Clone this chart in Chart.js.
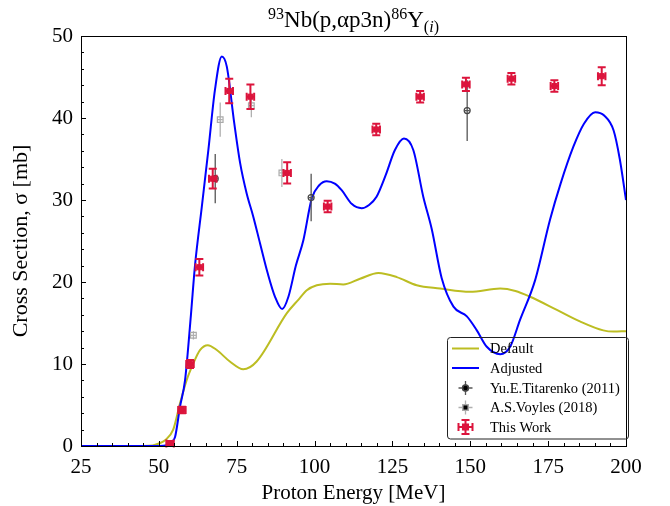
<!DOCTYPE html>
<html>
<head>
<meta charset="utf-8">
<script src="https://cdn.jsdelivr.net/npm/chart.js@4.4.1/dist/chart.umd.min.js"></script>
<style>
  html, body { margin: 0; padding: 0; background: #fff; }
</style>
</head>
<body>
<canvas id="xsChart" width="670" height="506"></canvas>
<script>
// model curves (energy in MeV, cross section in mb)
const defaultE  = [25, 45, 48, 50, 52, 54.6, 56.8, 58.9, 61.1, 63.2, 65.7, 68.6, 72.8, 77.1, 81.4, 91.1, 94.7, 97.5, 100.7, 105, 109.2, 114.6, 120.5, 126.4, 132.8, 140.3, 149.9, 159.6, 164.5, 169.2, 177.8, 185.2, 192.7, 196, 200];
const defaultXS = [0, 0, 0.05, 0.3, 0.7, 2.0, 5.2, 8.0, 10.1, 11.7, 12.3, 11.7, 10.3, 9.35, 10.3, 16.2, 17.8, 19.0, 19.6, 19.8, 19.7, 20.4, 21.1, 20.6, 19.6, 19.2, 18.8, 19.2, 18.9, 18.2, 16.6, 15.2, 14.1, 13.95, 14.0];

const adjustedE  = [25, 50, 52.6, 54, 55.2, 56.8, 58.4, 60.3, 61.6, 63.8, 65.9, 68.0, 70.2, 71.8, 74.2, 76.1, 78.2, 80.3, 82.5, 85, 87.3, 89.6, 91.6, 94, 96.4, 99.1, 101.5, 103.9, 106.5, 108.7, 112, 115.1, 117.5, 119.9, 122.8, 125.8, 128.7, 131.7, 134.9, 137.6, 140.8, 144.6, 148.9, 152.1, 155.3, 159.6, 162.8, 166.0, 170.8, 175.6, 179, 183.1, 186.5, 190.1, 193, 196, 198, 200];
const adjustedXS = [0, 0, 0.1, 0.5, 1.1, 4.8, 8.0, 16.0, 22.0, 29.2, 36.1, 43.4, 47.5, 46.3, 39.4, 34.5, 30.8, 28.0, 24.7, 21.0, 18.2, 16.7, 18.2, 22.0, 25.1, 30.2, 31.8, 32.3, 32.0, 31.2, 29.5, 29.0, 29.4, 30.4, 33.0, 36.1, 37.5, 36.1, 30.4, 26.5, 20.5, 17.0, 15.8, 14.1, 12.1, 11.2, 12.1, 15.4, 20.2, 27.6, 32.0, 36.5, 39.3, 40.7, 40.3, 38.5, 35.0, 30.0];

// measurements
const titarenkoE   = [68.1, 98.9, 149.0];
const titarenkoXS  = [32.6, 30.3, 40.9];
const titarenkoErr = [3.0, 2.9, 3.7];

const voylesE   = [61.1, 69.7, 79.7, 89.5];
const voylesXS  = [13.5, 39.8, 41.5, 33.3];
const voylesErr = [0.5, 2.1, 1.4, 1.7];

const workE    = [53.6, 57.4, 60.0, 63.0, 67.3, 72.6, 79.4, 91.2, 104.2, 119.8, 133.9, 148.6, 163.2, 177.0, 192.2];
const workXS   = [0.3, 4.4, 10.0, 21.8, 32.6, 43.3, 42.6, 33.3, 29.2, 38.6, 42.6, 44.1, 44.8, 43.9, 45.1];
const workErr  = [0.3, 0.4, 0.5, 1.0, 1.2, 1.5, 1.5, 1.3, 0.7, 0.7, 0.7, 0.8, 0.7, 0.7, 1.1];
const workEErr = [1.2, 1.2, 1.2, 1.2, 1.2, 1.2, 1.2, 1.2, 1.2, 1.2, 1.2, 1.2, 1.2, 1.2, 1.2];

const xTicks = [25, 50, 75, 100, 125, 150, 175, 200];
const yTicks = [0, 10, 20, 30, 40, 50];

const SERIF = '"Liberation Serif", "Times New Roman", serif';
const CRIMSON = '#dc143c';

function toXY(xs, ys) {
  return xs.map((x, i) => ({ x: x, y: ys[i] }));
}

// error bars drawn under each dataset's markers
const errorBars = {
  id: 'errorBars',
  beforeDatasetDraw(chart, args) {
    const ds = chart.data.datasets[args.index];
    if (!ds.errY) return;
    const { ctx, scales: { x, y } } = chart;
    ctx.save();
    ctx.strokeStyle = ds.errColor;
    ctx.lineWidth = ds.errWidth;
    ds.data.forEach((p, i) => {
      const px = x.getPixelForValue(p.x);
      const y0 = y.getPixelForValue(p.y - ds.errY[i]);
      const y1 = y.getPixelForValue(p.y + ds.errY[i]);
      const ex = ds.errX ? ds.errX[i] : 0;
      const x0 = x.getPixelForValue(p.x - ex);
      const x1 = x.getPixelForValue(p.x + ex);
      const py = y.getPixelForValue(p.y);
      ctx.beginPath();
      ctx.moveTo(px, y0); ctx.lineTo(px, y1);
      if (ex) { ctx.moveTo(x0, py); ctx.lineTo(x1, py); }
      if (ds.cap) {
        ctx.moveTo(px - ds.cap, y0); ctx.lineTo(px + ds.cap, y0);
        ctx.moveTo(px - ds.cap, y1); ctx.lineTo(px + ds.cap, y1);
        if (ex) {
          ctx.moveTo(x0, py - ds.cap); ctx.lineTo(x0, py + ds.cap);
          ctx.moveTo(x1, py - ds.cap); ctx.lineTo(x1, py + ds.cap);
        }
      }
      ctx.stroke();
    });
    ctx.restore();
  }
};

// frame, inward ticks, title and legend
const decorations = {
  id: 'decorations',
  afterDraw(chart) {
    const { ctx, chartArea: a, scales: { x, y } } = chart;
    ctx.save();
    ctx.strokeStyle = '#000';
    ctx.lineWidth = 1;
    ctx.strokeRect(Math.round(a.left) + 0.5, Math.round(a.top) + 0.5, Math.round(a.right - a.left), Math.round(a.bottom - a.top));

    ctx.beginPath();
    for (let v = 25; v <= 200; v += 5) {
      const px = Math.round(x.getPixelForValue(v)) + 0.5;
      const len = v % 25 === 0 ? 5 : 3;
      ctx.moveTo(px, a.bottom); ctx.lineTo(px, a.bottom - len);
    }
    for (let v = 0; v <= 50; v += 2) {
      const py = Math.round(y.getPixelForValue(v)) + 0.5;
      const len = v % 10 === 0 ? 5 : 3;
      ctx.moveTo(a.left, py); ctx.lineTo(a.left + len, py);
    }
    ctx.stroke();

    // title with super/subscripts
    const parts = [
      { t: '93', size: 16, dy: -8 },
      { t: 'Nb(p,\u03b1p3n)', size: 23, dy: 0 },
      { t: '86', size: 16, dy: -8 },
      { t: 'Y', size: 23, dy: 0 },
      { t: '(', size: 16, dy: 5 },
      { t: 'i', size: 16, dy: 5, italic: true },
      { t: ')', size: 16, dy: 5 }
    ];
    let total = 0;
    parts.forEach(p => {
      ctx.font = (p.italic ? 'italic ' : '') + p.size + 'px ' + SERIF;
      p.w = ctx.measureText(p.t).width;
      total += p.w;
    });
    let tx = (a.left + a.right) / 2 - total / 2;
    ctx.fillStyle = '#000';
    ctx.textBaseline = 'alphabetic';
    ctx.textAlign = 'left';
    parts.forEach(p => {
      ctx.font = (p.italic ? 'italic ' : '') + p.size + 'px ' + SERIF;
      ctx.fillText(p.t, tx, 27 + p.dy);
      tx += p.w;
    });

    // legend
    const lx = 447, ly = 337.5, lw = 181, lh = 101.5;
    ctx.beginPath();
    ctx.roundRect(lx + 0.5, ly, lw, lh, 3);
    ctx.strokeStyle = '#222';
    ctx.stroke();
    const rows = [348.5, 368, 388, 407.5, 427];
    const hx0 = 452, hx1 = 479, hc = 465.5;
    ctx.font = '14.5px ' + SERIF;
    ctx.textBaseline = 'middle';
    chart.data.datasets.slice().sort((p, q) => p.legendRow - q.legendRow).forEach((ds, k) => {
      const ry = rows[k];
      ctx.save();
      if (ds.kind === 'line') {
        ctx.strokeStyle = ds.borderColor;
        ctx.lineWidth = ds.borderWidth;
        ctx.beginPath(); ctx.moveTo(hx0, ry); ctx.lineTo(hx1, ry); ctx.stroke();
      } else {
        ctx.strokeStyle = ds.errColor;
        ctx.lineWidth = ds.errWidth;
        ctx.beginPath();
        ctx.moveTo(hc, ry - 7); ctx.lineTo(hc, ry + 7);
        ctx.moveTo(hc - 7, ry); ctx.lineTo(hc + 7, ry);
        if (ds.cap) {
          ctx.moveTo(hc - 4, ry - 7); ctx.lineTo(hc + 4, ry - 7);
          ctx.moveTo(hc - 4, ry + 7); ctx.lineTo(hc + 4, ry + 7);
          ctx.moveTo(hc - 7, ry - 4); ctx.lineTo(hc - 7, ry + 4);
          ctx.moveTo(hc + 7, ry - 4); ctx.lineTo(hc + 7, ry + 4);
        }
        ctx.stroke();
        Chart.helpers.drawPoint(ctx, {
          pointStyle: ds.pointStyle, radius: ds.pointRadius, borderWidth: ds.borderWidth,
          rotation: 0
        }, hc, ry);
        ctx.fillStyle = ds.backgroundColor;
        ctx.strokeStyle = ds.borderColor;
        ctx.lineWidth = ds.borderWidth;
        ctx.fill(); ctx.stroke();
      }
      ctx.restore();
      ctx.fillStyle = '#000';
      ctx.fillText(ds.label, 490, ry + 1);
    });
    ctx.restore();
  }
};

new Chart(document.getElementById('xsChart'), {
  type: 'scatter',
  data: {
    datasets: [
      {
        label: 'This Work', kind: 'err', legendRow: 4, order: 0,
        data: toXY(workE, workXS), errY: workErr, errX: workEErr, cap: 4,
        errColor: CRIMSON, errWidth: 2,
        pointStyle: 'rect', pointRadius: 3.6, backgroundColor: CRIMSON, borderColor: CRIMSON, borderWidth: 1
      },
      {
        label: 'Yu.E.Titarenko (2011)', kind: 'err', legendRow: 2, order: 1,
        data: toXY(titarenkoE, titarenkoXS), errY: titarenkoErr, errX: [0.8, 0.8, 0.8], cap: 0,
        errColor: '#555', errWidth: 1.3,
        pointStyle: 'circle', pointRadius: 3, backgroundColor: 'rgba(255,255,255,0)', borderColor: '#444', borderWidth: 1.2
      },
      {
        label: 'A.S.Voyles (2018)', kind: 'err', legendRow: 3, order: 2,
        data: toXY(voylesE, voylesXS), errY: voylesErr, errX: [0.8, 0.8, 0.8, 0.8], cap: 0,
        errColor: '#b0b0b0', errWidth: 1.3,
        pointStyle: 'rect', pointRadius: 4, backgroundColor: 'rgba(255,255,255,0)', borderColor: '#aaa', borderWidth: 1.2
      },
      {
        label: 'Adjusted', kind: 'line', legendRow: 1, order: 3,
        data: toXY(adjustedE, adjustedXS), showLine: true, cubicInterpolationMode: 'monotone',
        borderColor: '#0000ff', borderWidth: 2, pointRadius: 0
      },
      {
        label: 'Default', kind: 'line', legendRow: 0, order: 4,
        data: toXY(defaultE, defaultXS), showLine: true, cubicInterpolationMode: 'monotone',
        borderColor: '#bcbd22', borderWidth: 2, pointRadius: 0
      }
    ]
  },
  options: {
    responsive: false,
    animation: false,
    layout: { padding: { top: 36, right: 44, left: 0, bottom: 0 } },
    plugins: { legend: { display: false }, tooltip: { enabled: false } },
    scales: {
      x: {
        type: 'linear', min: 25, max: 200,
        afterFit(s) { s.height = 60; },
        afterBuildTicks(s) { s.ticks = xTicks.map(v => ({ value: v })); },
        grid: { display: false },
        border: { display: false },
        ticks: { padding: 1, color: '#000', font: { family: SERIF, size: 21 } },
        title: { display: true, text: 'Proton Energy [MeV]', color: '#000', padding: { top: 0, bottom: 0 }, font: { family: SERIF, size: 21 } }
      },
      y: {
        type: 'linear', min: 0, max: 50,
        afterFit(s) { s.width = 81; },
        afterBuildTicks(s) { s.ticks = yTicks.map(v => ({ value: v })); },
        grid: { display: false },
        border: { display: false },
        ticks: { padding: 0, color: '#000', font: { family: SERIF, size: 21 } },
        title: { display: true, text: 'Cross Section, \u03c3 [mb]', color: '#000', padding: { top: 8, bottom: 0 }, font: { family: SERIF, size: 22 } }
      }
    }
  },
  plugins: [errorBars, decorations]
});
</script>
</body>
</html>
